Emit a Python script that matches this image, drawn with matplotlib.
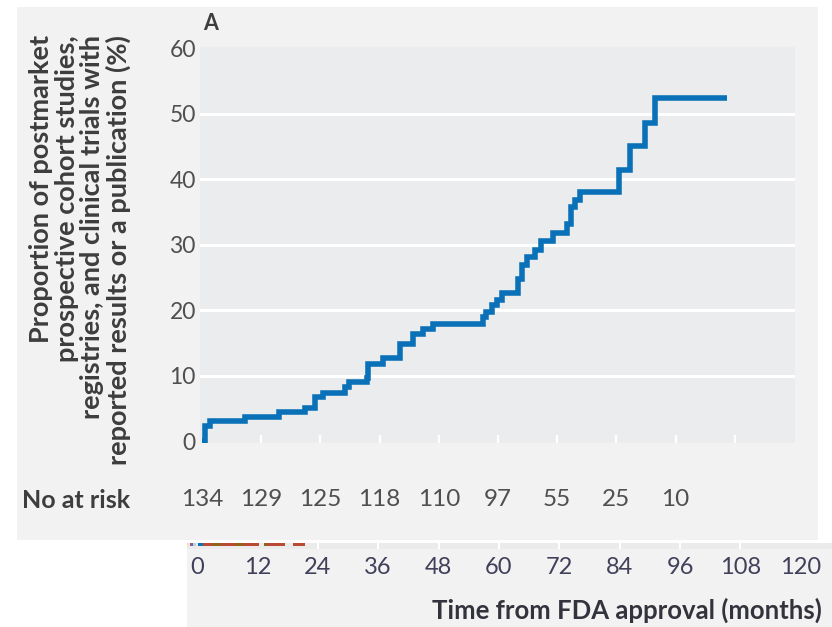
import matplotlib
matplotlib.use("Agg")
import matplotlib.pyplot as plt
from matplotlib.patches import Rectangle

plt.rcParams['font.family'] = ['Lato', 'DejaVu Sans']

# Kaplan-Meier style cumulative proportion (step points)
months = [0, 0.6, 1.6, 8.7, 15.6, 20.9, 22.9, 24.5, 29.0, 29.8, 33.4, 33.7,
          36.7, 40.1, 42.8, 44.8, 46.8, 57.0, 57.6, 58.8, 59.8, 60.8, 64.0,
          64.8, 65.9, 67.5, 68.7, 71.1, 74.0, 74.8, 75.6, 76.6, 84.5, 86.7,
          89.8, 91.8, 106.4]
percent = [0, 2.3, 3.0, 3.7, 4.4, 5.1, 6.7, 7.4, 8.2, 9.0, 9.6, 11.8,
           12.7, 14.9, 16.4, 17.1, 17.9, 18.9, 19.7, 20.8, 21.6, 22.6, 24.8,
           26.9, 28.1, 29.2, 30.5, 31.8, 33.2, 35.8, 36.9, 38.1, 41.4, 45.0,
           48.6, 52.4, 52.4]

risk_months = [0, 12, 24, 36, 48, 60, 72, 84, 96]
at_risk = [134, 129, 125, 118, 110, 97, 55, 25, 10]

y_ticks = [0, 10, 20, 30, 40, 50, 60]
inner_ticks = [12, 24, 36, 48, 60, 72, 84, 96, 108]
time_ticks = [0, 12, 24, 36, 48, 60, 72, 84, 96, 108, 120]

W, H = 832, 627
fig = plt.figure(figsize=(W / 100, H / 100), dpi=100)
fig.patch.set_facecolor('white')


def px_rect(x0, y0, x1, y1, color, z=-10):
    fig.patches.append(Rectangle((x0 / W, 1 - y1 / H), (x1 - x0) / W, (y1 - y0) / H,
                                 transform=fig.transFigure, facecolor=color,
                                 edgecolor='none', zorder=z))


# panel backgrounds
px_rect(17, 7, 818, 540, '#f2f2f2')
px_rect(187, 543, 832, 627, '#f2f2f2')

ax = fig.add_axes([200 / W, 1 - 443 / H, 595 / W, 396 / H], zorder=1)
ax.set_facecolor('#ebeced')
for s in ax.spines.values():
    s.set_visible(False)
ax.set_xlim(-0.4, 120.2)
ax.set_ylim(-0.3, 60.2)

for yv in y_ticks[1:-1]:
    ax.axhline(yv, color='white', lw=2.2, zorder=1)

ax.step(months, percent, where='post', color='#0a71b8', lw=4.0,
        solid_capstyle='butt', solid_joinstyle='miter', zorder=3)

ax.set_yticks(y_ticks)
ax.set_yticklabels([str(v) for v in y_ticks])
ax.tick_params(axis='y', length=0, pad=3, labelsize=16.5, labelcolor='#4f4f4f')
ax.set_xticks(inner_ticks)
ax.set_xticklabels([])
ax.tick_params(axis='x', direction='in', length=6, width=1.6, color='white')

# number at risk row
for m, n in zip(risk_months, at_risk):
    ax.text(m, -9.0, str(n), ha='center', va='center', fontsize=17.5,
            color='#4f4f4f', clip_on=False)
fig.text(22 / W, 1 - 500 / H, 'No at risk', ha='left', va='center',
         fontsize=18, fontweight='bold', color='#3d3d3d')

fig.text(203 / W, 1 - 23 / H, 'A', ha='left', va='center', fontsize=15.5,
         fontweight='bold', color='#3d3d3d')

fig.text(80 / W, 1 - 35 / H,
         'Proportion of postmarket\nprospective cohort studies,\n'
         'registries, and clinical trials with\nreported results or a publication (%)',
         rotation=90, ha='center', va='top', multialignment='right',
         fontsize=19.5, fontweight='bold', color='#3d3d3d', linespacing=1.07)

# lower time axis strip
ax2 = fig.add_axes([187 / W, 1 - 549 / H, (832 - 187) / W, 6 / H], zorder=1)
ax2.set_facecolor('#ebebeb')
for s in ax2.spines.values():
    s.set_visible(False)
ax2.set_xlim(-2.0, 126.2)
ax2.set_ylim(0, 1)
ax2.set_yticks([])
ax2.set_xticks(time_ticks)
ax2.set_xticklabels([str(t) for t in time_ticks])
ax2.tick_params(axis='x', length=0, pad=6, labelsize=17, labelcolor='#40405a')
for t in time_ticks[2:-1]:
    ax2.axvline(t, color='white', lw=1.5)

# coloured fragments along the strip edge
for x0, x1, c in [(187, 189, '#efe4b0'), (190, 193, '#8e5b8e'), (193, 196, '#a8d8ea'),
                  (198, 203, '#0a71b8'), (203, 213, '#b94a33'), (213, 221, '#8b6914'),
                  (221, 236, '#b94a33'), (236, 243, '#8b6914'), (243, 259, '#b94a33'),
                  (264, 267, '#8b6914'), (267, 285, '#b94a33'), (293, 305, '#b94a33')]:
    px_rect(x0, 543, x1, 546, c, z=5)

fig.text(822 / W, 1 - 610 / H, 'Time from FDA approval (months)', ha='right',
         va='center', fontsize=18.5, fontweight='bold', color='#33333d')

fig.savefig('out.png', dpi=100, facecolor='white')
